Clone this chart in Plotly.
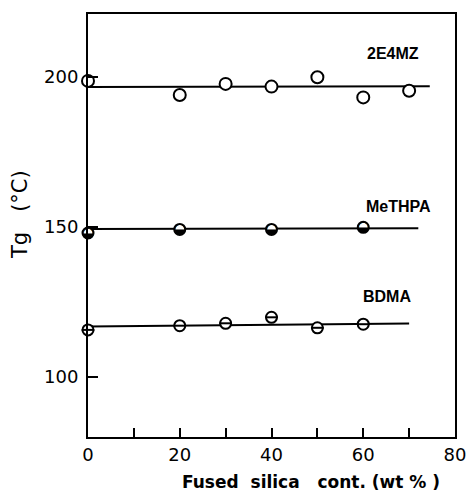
import plotly.graph_objects as go

x_2e4mz = [0, 20, 30, 40, 50, 60, 70]
tg_2e4mz = [198.7, 194.0, 197.7, 196.8, 199.9, 193.2, 195.4]
fit_2e4mz_x = [0, 74.5]
fit_2e4mz_y = [196.7, 196.9]

x_methpa = [0, 20, 40, 60]
tg_methpa = [148.0, 149.2, 149.2, 149.9]
fit_methpa_x = [0, 72]
fit_methpa_y = [149.3, 149.6]

x_bdma = [0, 20, 30, 40, 50, 60]
tg_bdma = [115.7, 117.1, 117.9, 119.9, 116.4, 117.6]
fit_bdma_x = [0, 70]
fit_bdma_y = [116.8, 117.8]

labels = ["2E4MZ", "MeTHPA", "BDMA"]
label_x = [66.5, 67.6, 65.2]
label_y = [207.7, 156.7, 127]

x_ticks = [0, 20, 40, 60, 80]
y_ticks = [100, 150, 200]

fig = go.Figure()
line_style = dict(color="black", width=2)
for fx, fy in [(fit_2e4mz_x, fit_2e4mz_y), (fit_methpa_x, fit_methpa_y), (fit_bdma_x, fit_bdma_y)]:
    fig.add_trace(go.Scatter(x=fx, y=fy, mode="lines", line=line_style, showlegend=False, cliponaxis=False))

fig.add_trace(go.Scatter(x=x_2e4mz, y=tg_2e4mz, mode="markers", showlegend=False, cliponaxis=False,
                         marker=dict(symbol="circle", size=12, color="white", line=dict(color="black", width=2))))
fig.add_trace(go.Scatter(x=x_methpa, y=tg_methpa, mode="markers", showlegend=False, cliponaxis=False,
                         marker=dict(symbol="circle", size=11, color="white", line=dict(color="black", width=2))))
fig.add_trace(go.Scatter(x=x_methpa, y=tg_methpa, mode="text", text=["◒"] * len(x_methpa),
                         textposition="middle center", showlegend=False, cliponaxis=False,
                         textfont=dict(family="DejaVu Sans", size=14, color="black")))
fig.add_trace(go.Scatter(x=x_bdma, y=tg_bdma, mode="markers", showlegend=False, cliponaxis=False,
                         marker=dict(symbol="circle", size=11, color="white", line=dict(color="black", width=2))))
fig.add_trace(go.Scatter(x=x_bdma, y=tg_bdma, mode="markers", showlegend=False, cliponaxis=False,
                         marker=dict(symbol="line-ew", size=9, color="black", line=dict(color="black", width=2))))

for t, lx, ly in zip(labels, label_x, label_y):
    fig.add_annotation(x=lx, y=ly, text="<b>" + t + "</b>", showarrow=False,
                       font=dict(family="Liberation Sans", size=16, color="black"))

fig.add_annotation(xref="paper", yref="paper", x=-0.185, y=0.525, xanchor="center", yanchor="middle",
                   text="Tg&nbsp;&nbsp;&nbsp;(°C)", textangle=-90,
                   showarrow=False, font=dict(family="DejaVu Sans", size=21, color="black"))
fig.add_annotation(xref="paper", yref="paper", x=0.608, y=-0.106, xanchor="center", yanchor="middle",
                   text="<b>Fused&nbsp; silica&nbsp;&nbsp; cont. (wt % )</b>",
                   showarrow=False, font=dict(family="DejaVu Sans", size=17, color="black"))

axis_font = dict(family="DejaVu Sans", size=18, color="black")
fig.update_xaxes(range=[0, 80], tickvals=x_ticks, ticktext=[str(v) for v in x_ticks],
                 ticks="inside", ticklen=9, tickwidth=2, tickcolor="black",
                 minor=dict(dtick=10, ticks="inside", ticklen=9, tickwidth=2, tickcolor="black"),
                 showline=True, linewidth=2, linecolor="black", mirror=True, showgrid=False, zeroline=False,
                 tickfont=axis_font, automargin=False)
fig.update_yaxes(range=[80, 221], tickvals=y_ticks, ticktext=[str(v) for v in y_ticks],
                 ticks="inside", ticklen=10, tickwidth=2, tickcolor="black", ticklabelstandoff=4,
                 showline=True, linewidth=2, linecolor="black", mirror=True, showgrid=False, zeroline=False,
                 tickfont=axis_font, automargin=False)

fig.update_layout(width=467, height=495, margin=dict(l=88, r=12, t=14, b=58, autoexpand=False),
                  plot_bgcolor="white", paper_bgcolor="white")
fig.write_html("out.html", config={"displayModeBar": False},
               post_script="document.body.style.margin='0px';document.body.style.overflow='hidden';")
